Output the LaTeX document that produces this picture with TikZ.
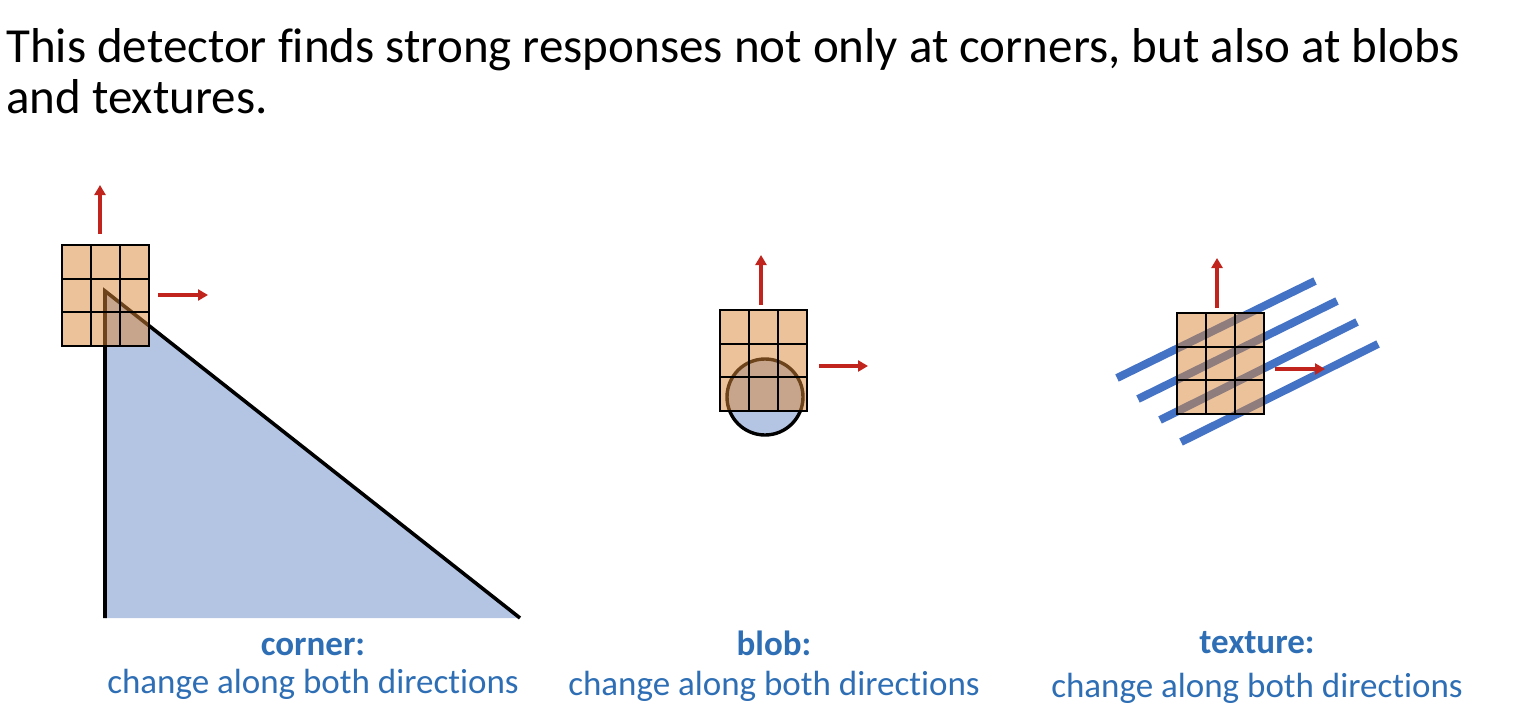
\documentclass[tikz,border=0pt]{standalone}
\usepackage{fontspec}
\setmainfont{Carlito}[Ligatures={NoCommon}]
\usetikzlibrary{arrows.meta}
\definecolor{patchorange}{RGB}{218,134,56}
\definecolor{shapeblue}{RGB}{180,197,228}
\definecolor{stripeblue}{RGB}{68,114,196}
\definecolor{arrowred}{RGB}{192,36,28}
\definecolor{labelblue}{RGB}{46,110,180}
\newcommand{\patchgrid}[2]{%
  \fill[patchorange,opacity=0.5] (#1,#2) rectangle ++(87,101);
  \foreach \i in {0,1,2,3} {
    \draw[gridline] (#1+29*\i,#2) -- ++(0,101);
    \draw[gridline] (#1,#2+33.667*\i) -- ++(87,0);
  }%
}
\tikzset{
  gridline/.style={black,line width=2bp,line cap=rect},
  shapeline/.style={black,line width=3.6bp},
  dirarrow/.style={arrowred,line width=3.5bp,-{Triangle[length=10bp,width=11bp]}},
  stripe/.style={stripeblue,line width=8bp},
  titletext/.style={font=\fontsize{49bp}{56bp}\selectfont,anchor=base west,inner sep=0pt},
  headtext/.style={font=\fontsize{35bp}{40bp}\selectfont\bfseries,text=labelblue,anchor=base,inner sep=0pt},
  subtext/.style={font=\fontsize{35bp}{40bp}\selectfont,text=labelblue,anchor=base,inner sep=0pt},
}
\begin{document}
\begin{tikzpicture}[x=1bp,y=-1bp]
\useasboundingbox (0,0) rectangle (1514,726);
% title
\node[titletext] (t1) at (6,63) {This detector finds strong responses not only at corners, but also at blobs};
\node[titletext] (t2) at (6,114) {and textures.};
% corner
\fill[shapeblue] (105,291) -- (105,618) -- (520,618) -- cycle;
\draw[shapeline] (105,618) -- (105,291) -- (520,618);
\patchgrid{62}{245}
\coordinate (cu0) at (100,234); \coordinate (cu1) at (100,185);
\coordinate (cr0) at (158,295); \coordinate (cr1) at (208,295);
\draw[dirarrow] (cu0) -- (cu1);
\draw[dirarrow] (cr0) -- (cr1);
% blob
\filldraw[fill=shapeblue,draw=black,line width=3.4bp] (765,397) circle (38);
\patchgrid{720}{310}
\coordinate (bu0) at (761,305); \coordinate (bu1) at (761,255);
\coordinate (br0) at (819,366); \coordinate (br1) at (868,366);
\draw[dirarrow] (bu0) -- (bu1);
\draw[dirarrow] (br0) -- (br1);
% texture
\draw[stripe] (1117,378) -- (1315,281);
\draw[stripe] (1138,399) -- (1337,301);
\draw[stripe] (1160,420) -- (1357,322);
\draw[stripe] (1181,442) -- (1378,344);
\patchgrid{1177}{313}
\coordinate (xu0) at (1217,308); \coordinate (xu1) at (1217,258);
\coordinate (xr0) at (1275,369); \coordinate (xr1) at (1325,369);
\draw[dirarrow] (xu0) -- (xu1);
\draw[dirarrow] (xr0) -- (xr1);
% labels
\node[headtext] (l1) at (313,655) {corner:};
\node[subtext] (s1) at (313,693) {change along both directions};
\node[headtext] (l2) at (774,655) {blob:};
\node[subtext] (s2) at (774,695) {change along both directions};
\node[headtext] (l3) at (1257,653) {texture:};
\node[subtext] (s3) at (1257,697) {change along both directions};
\end{tikzpicture}
\end{document}
